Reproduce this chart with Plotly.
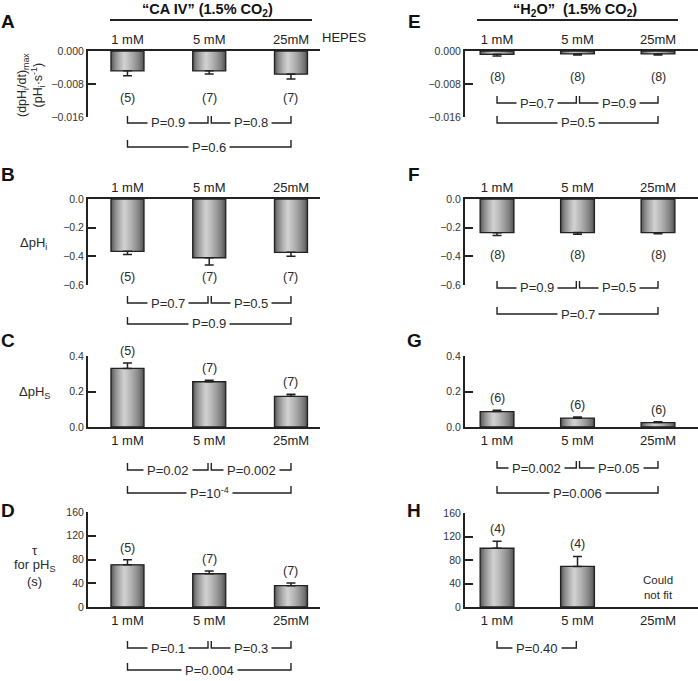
import plotly.graph_objects as go

W, H = 698, 681

categories = ["1 mM", "5 mM", "25mM"]

# Panel A: (dpHi/dt)max, CA IV
A_vals = [-0.0048, -0.0048, -0.0056]
A_err = [0.0012, 0.0008, 0.0012]
A_n = ["(5)", "(7)", "(7)"]
A_p = ["P=0.9", "P=0.8", "P=0.6"]
# Panel B: delta pHi, CA IV
B_vals = [-0.365, -0.41, -0.372]
B_err = [0.022, 0.05, 0.028]
B_n = ["(5)", "(7)", "(7)"]
B_p = ["P=0.7", "P=0.5", "P=0.9"]
# Panel C: delta pHs, CA IV
C_vals = [0.33, 0.255, 0.173]
C_err = [0.03, 0.008, 0.012]
C_n = ["(5)", "(7)", "(7)"]
C_p = ["P=0.02", "P=0.002", "P=10<sup>-4</sup>"]
# Panel D: tau for pHs, CA IV
D_vals = [71, 56, 36]
D_err = [8.5, 4.5, 4.5]
D_n = ["(5)", "(7)", "(7)"]
D_p = ["P=0.1", "P=0.3", "P=0.004"]
# Panel E: (dpHi/dt)max, H2O
E_vals = [-0.0008, -0.0007, -0.0007]
E_err = [0.0004, 0.0003, 0.0003]
E_n = ["(8)", "(8)", "(8)"]
E_p = ["P=0.7", "P=0.9", "P=0.5"]
# Panel F: delta pHi, H2O
F_vals = [-0.235, -0.234, -0.235]
F_err = [0.02, 0.012, 0.007]
F_n = ["(8)", "(8)", "(8)"]
F_p = ["P=0.9", "P=0.5", "P=0.7"]
# Panel G: delta pHs, H2O
G_vals = [0.087, 0.05, 0.025]
G_err = [0.008, 0.006, 0.005]
G_n = ["(6)", "(6)", "(6)"]
G_p = ["P=0.002", "P=0.05", "P=0.006"]
# Panel H: tau for pHs, H2O
H_vals = [100, 69, None]
H_err = [12, 17, None]
H_n = ["(4)", "(4)", ""]
H_p = ["P=0.40"]

FONT = "Liberation Sans, Arial, Helvetica, sans-serif"
INK = "#222222"
TXT = "#2a2a2a"


def fx(p):
    return p / W


def fy(p):
    return 1 - p / H


COLS = [
    dict(dom=(88, 320), rng=[-0.483, 2.355], bw=0.404),
    dict(dom=(465, 698), rng=[-0.398, 2.497], bw=0.42),
]

panels = [
    dict(L="A", col=0, v=A_vals, e=A_err, n=A_n, p=A_p, yr=[-0.016, 0], top=51, bot=117,
         tv=[0, -0.008, -0.016], fmt=".3f", neg=True, ny=98, rows=[123, 147], lxy=(8, 21)),
    dict(L="B", col=0, v=B_vals, e=B_err, n=B_n, p=B_p, yr=[-0.6, 0], top=199, bot=285,
         tv=[0, -0.2, -0.4, -0.6], fmt=".1f", neg=True, ny=277, rows=[303, 324], lxy=(8, 174)),
    dict(L="C", col=0, v=C_vals, e=C_err, n=C_n, p=C_p, yr=[0, 0.4], top=356, bot=427,
         tv=[0, 0.2, 0.4], fmt=".1f", neg=False, ny=None, rows=[470, 493], lxy=(8, 340)),
    dict(L="D", col=0, v=D_vals, e=D_err, n=D_n, p=D_p, yr=[0, 160], top=512, bot=607,
         tv=[0, 40, 80, 120, 160], fmt="d", neg=False, ny=None, rows=[648, 670], lxy=(8, 510)),
    dict(L="E", col=1, v=E_vals, e=E_err, n=E_n, p=E_p, yr=[-0.016, 0], top=51, bot=117,
         tv=[0, -0.008, -0.016], fmt=".3f", neg=True, ny=77, rows=[103, 123], lxy=(414, 21)),
    dict(L="F", col=1, v=F_vals, e=F_err, n=F_n, p=F_p, yr=[-0.6, 0], top=199, bot=285,
         tv=[0, -0.2, -0.4, -0.6], fmt=".1f", neg=True, ny=255, rows=[288, 314], lxy=(414, 174)),
    dict(L="G", col=1, v=G_vals, e=G_err, n=G_n, p=G_p, yr=[0, 0.4], top=356, bot=427,
         tv=[0, 0.2, 0.4], fmt=".1f", neg=False, ny=None, rows=[468, 493], lxy=(414, 340)),
    dict(L="H", col=1, v=H_vals, e=H_err, n=H_n, p=H_p, yr=[0, 160], top=513, bot=607,
         tv=[0, 40, 80, 120, 160], fmt="d", neg=False, ny=None, rows=[648], lxy=(414, 510)),
]

fig = go.Figure()
layout = dict(
    template="none",
    width=W, height=H, margin=dict(l=0, r=0, t=0, b=0, pad=0, autoexpand=False),
    paper_bgcolor="white", plot_bgcolor="white",
    showlegend=False, barmode="overlay",
    font=dict(family=FONT, color=TXT),
)
annotations = []
shapes = []


def ann(**kw):
    d = dict(showarrow=False, xanchor="center", yanchor="middle")
    d.update(kw)
    annotations.append(d)


NL = 16
xs = [0, 1, 2]

for i, pn in enumerate(panels, start=1):
    col = COLS[pn["col"]]
    xa = "x" if i == 1 else f"x{i}"
    ya = "y" if i == 1 else f"y{i}"
    xkey = "xaxis" if i == 1 else f"xaxis{i}"
    ykey = "yaxis" if i == 1 else f"yaxis{i}"
    bw = col["bw"]

    # gradient bar layers
    for k in range(NL):
        t = k / NL
        g = int(78 + (214 - 78) * (t ** 0.65))
        fig.add_trace(go.Bar(
            x=xs, y=pn["v"], width=bw * (1 - t), offset=-0.5 * bw + 0.4 * bw * t,
            marker=dict(color=f"rgb({g},{g},{g})", line=dict(width=0)),
            xaxis=xa, yaxis=ya, hoverinfo="skip", showlegend=False))
    errs = [0 if e is None else e for e in pn["e"]]
    zeros = [0 for _ in errs]
    fig.add_trace(go.Bar(
        x=xs, y=pn["v"], width=bw,
        marker=dict(color="rgba(0,0,0,0)", line=dict(width=1.3, color=INK)),
        error_y=dict(type="data", symmetric=False,
                     array=zeros if pn["neg"] else errs,
                     arrayminus=errs if pn["neg"] else zeros,
                     color=INK, thickness=1.5, width=4.5),
        xaxis=xa, yaxis=ya, hoverinfo="skip", showlegend=False))

    layout[xkey] = dict(
        domain=[fx(col["dom"][0]), fx(col["dom"][1])], range=col["rng"],
        anchor=ya, side="top" if pn["neg"] else "bottom", automargin=False,
        tickmode="array", tickvals=xs, ticktext=categories, ticks="",
        showline=True, linecolor=INK, linewidth=2, showgrid=False, zeroline=False,
        tickfont=dict(size=13, color=INK, family=FONT), fixedrange=True)
    layout[ykey] = dict(
        domain=[fy(pn["bot"]), fy(pn["top"])], range=pn["yr"], anchor=xa, automargin=False,
        tickmode="array", tickvals=pn["tv"], tickformat=pn["fmt"],
        ticks="inside", ticklen=8, tickwidth=2, tickcolor=INK,
        showline=True, linecolor=INK, linewidth=2, showgrid=False, zeroline=False,
        tickfont=dict(size=10.5, color="#333333", family=FONT), fixedrange=True)

    # n labels
    for j, lab in enumerate(pn["n"]):
        if not lab:
            continue
        if pn["neg"]:
            ann(x=j, y=fy(pn["ny"]), xref=xa, yref="paper", text=lab,
                font=dict(size=12.5, color=TXT))
        else:
            ann(x=j, y=pn["v"][j] + pn["e"][j], xref=xa, yref=ya, text=lab,
                yshift=12, font=dict(size=12.5, color=TXT))

    # comparison brackets
    pairs = [(0, 1, 0), (1, 2, 0), (0, 2, 1)][:len(pn["p"])]
    for (a, b, r), txt in zip(pairs, pn["p"]):
        x0 = a + (0.025 if (a == 1) else 0)
        x1 = b - (0.015 if (b == 1) else 0)
        yh = pn["rows"][r]
        shapes.append(dict(type="path", xref=xa, yref="paper",
                           path=f"M {x0},{fy(yh - 7)} L {x0},{fy(yh)} L {x1},{fy(yh)} L {x1},{fy(yh - 7)}",
                           line=dict(color=INK, width=1.4)))
        ann(x=(x0 + x1) / 2, y=fy(yh), xref=xa, yref="paper", text=txt,
            bgcolor="white", borderpad=3, font=dict(size=13, color=TXT))

    # panel letter
    lx, ly = pn["lxy"]
    ann(x=fx(lx), y=fy(ly), xref="paper", yref="paper", text=f"<b>{pn['L']}</b>",
        font=dict(size=19, color="#111111"))

# Column titles with underline
ann(x=fx(207), y=fy(10), xref="paper", yref="paper",
    text="<b>“CA IV” (1.5% CO<sub>2</sub>)</b>", font=dict(size=14.5, color="#111111"))
ann(x=fx(575), y=fy(10), xref="paper", yref="paper",
    text="<b>“H<sub>2</sub>O”  (1.5% CO<sub>2</sub>)</b>", font=dict(size=14.5, color="#111111"))
shapes.append(dict(type="line", xref="paper", yref="paper", x0=fx(110), x1=fx(312), y0=fy(20), y1=fy(20),
                   line=dict(color=INK, width=2.2)))
shapes.append(dict(type="line", xref="paper", yref="paper", x0=fx(477), x1=fx(678), y0=fy(20), y1=fy(20),
                   line=dict(color=INK, width=2.2)))

# HEPES label
ann(x=fx(320), y=fy(38), xref="paper", yref="paper", text="HEPES",
    xanchor="left", font=dict(size=13, color=INK))

# Y axis labels
ann(x=fx(31), y=fy(85), xref="paper", yref="paper", textangle=-90,
    text="(dpH<sub>i</sub>/dt)<sub>max</sub><br>(pH<sub>i</sub>·s<sup>-1</sup>)",
    font=dict(size=12.5, color=TXT))
ann(x=fx(33), y=fy(243), xref="paper", yref="paper", text="ΔpH<sub>i</sub>",
    font=dict(size=13, color=TXT))
ann(x=fx(34), y=fy(392), xref="paper", yref="paper", text="ΔpH<sub>S</sub>",
    font=dict(size=13, color=TXT))
ann(x=fx(35), y=fy(550), xref="paper", yref="paper", text="τ",
    font=dict(size=13, color=TXT))
ann(x=fx(34), y=fy(565), xref="paper", yref="paper", text="for pH<sub>S</sub>",
    font=dict(size=13, color=TXT))
ann(x=fx(34), y=fy(581), xref="paper", yref="paper", text="(s)",
    font=dict(size=13, color=TXT))

# "Could not fit" in H
ann(x=2, y=fy(587), xref="x8", yref="paper", text="Could<br>not fit",
    font=dict(size=11.5, color=TXT))

layout["annotations"] = annotations
layout["shapes"] = shapes
fig.update_layout(**layout)

fig.write_html(
    "out.html",
    config={"displayModeBar": False, "staticPlot": True},
    post_script="document.body.style.margin='0';document.body.style.overflow='hidden';",
)
